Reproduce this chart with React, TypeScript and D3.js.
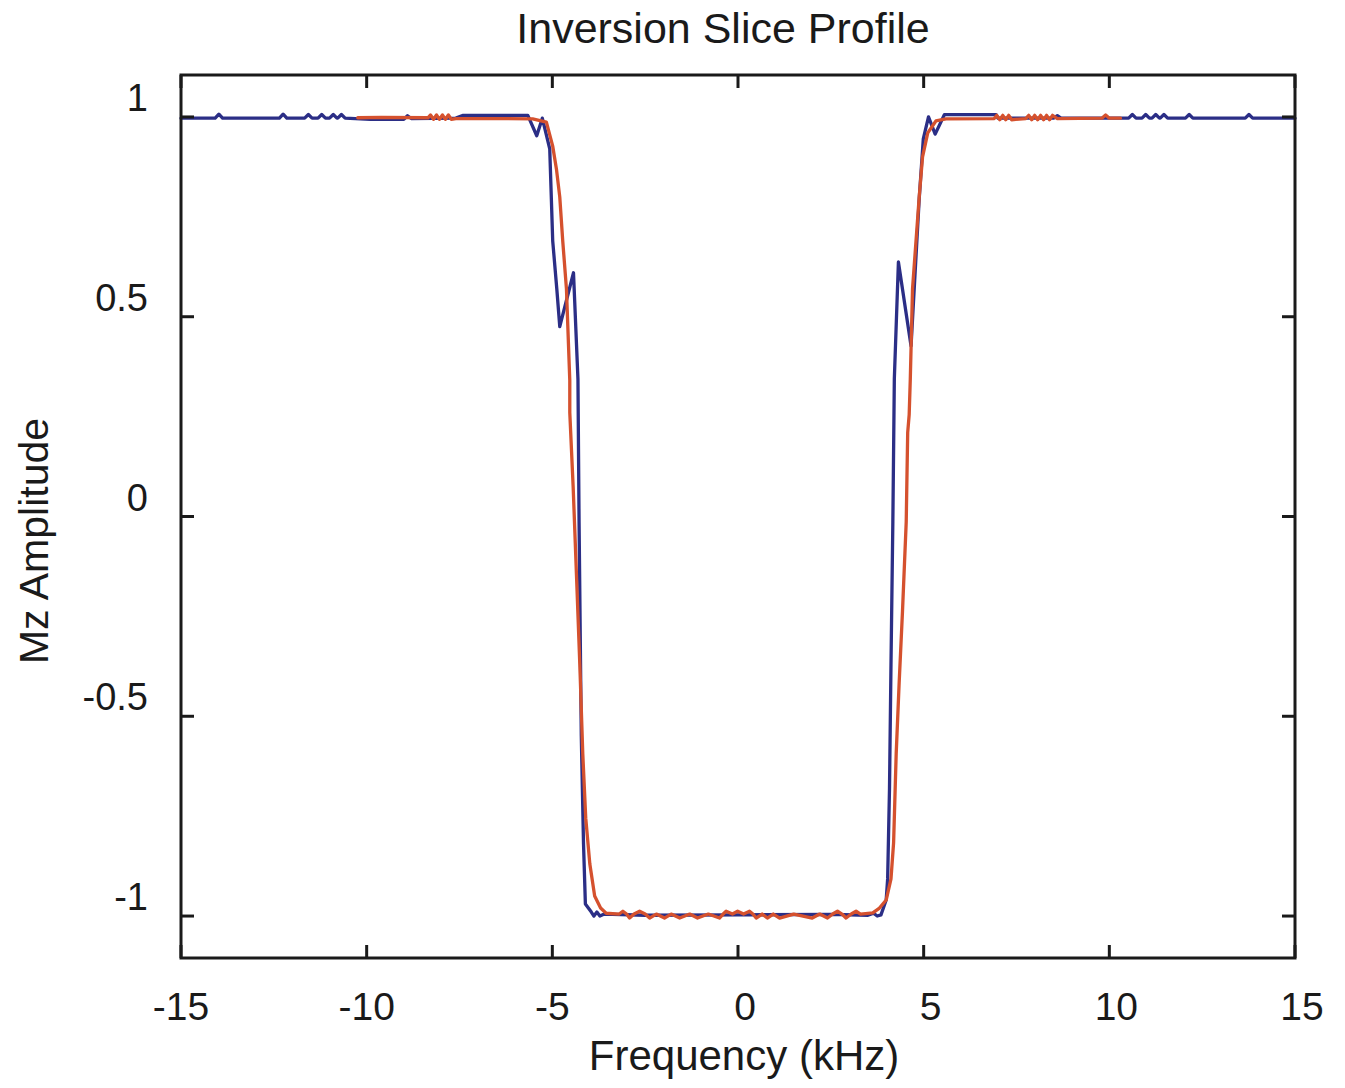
import React, { useEffect, useRef } from "react";
import * as d3 from "d3";

// frequency (kHz), Mz amplitude
const bluePoints: [number, number][] = [
  [-15, 0.997], [-14.08, 0.997], [-13.98, 1.007], [-13.88, 0.997],
  [-12.35, 0.997], [-12.25, 1.007], [-12.15, 0.997],
  [-11.67, 0.997], [-11.57, 1.006], [-11.47, 0.997],
  [-11.31, 0.997], [-11.21, 1.006], [-11.11, 0.997],
  [-11.0, 0.997], [-10.9, 1.006], [-10.8, 0.997],
  [-10.78, 0.997], [-10.68, 1.006], [-10.58, 0.997],
  [-9.9, 0.994], [-9.0, 0.994], [-8.9, 1.003], [-8.8, 0.996],
  [-7.6, 0.997], [-7.4, 1.004], [-5.66, 1.004],
  [-5.42, 0.953], [-5.27, 0.997], [-5.07, 0.92], [-4.99, 0.69],
  [-4.88, 0.57], [-4.8, 0.475], [-4.43, 0.61], [-4.31, 0.344],
  [-4.28, -0.013], [-4.22, -0.55], [-4.16, -0.82], [-4.11, -0.97],
  [-3.95, -0.99], [-3.88, -1.0], [-3.8, -0.99], [-3.72, -1.0],
  [-3.6, -0.995], [-2.5, -0.998], [0, -0.997], [2.5, -0.996],
  [3.5, -0.998], [3.65, -0.993], [3.75, -1.0], [3.85, -0.997],
  [3.99, -0.96], [4.03, -0.907], [4.08, -0.68], [4.12, -0.37],
  [4.17, -0.014], [4.21, 0.344], [4.32, 0.637], [4.66, 0.427],
  [4.88, 0.795], [4.99, 0.945], [5.13, 1.0], [5.31, 0.957],
  [5.56, 1.006], [6.95, 1.006], [7.0, 0.997], [8.5, 0.997],
  [8.6, 1.003], [8.7, 0.997],
  [10.52, 0.997], [10.62, 1.006], [10.72, 0.997],
  [10.88, 0.997], [10.98, 1.006], [11.08, 0.997],
  [11.15, 0.997], [11.25, 1.006], [11.35, 0.997],
  [11.37, 0.997], [11.47, 1.006], [11.57, 0.997],
  [12.05, 0.997], [12.15, 1.006], [12.25, 0.997],
  [13.66, 0.997], [13.76, 1.006], [13.86, 0.997],
  [15, 0.997],
];

const redPoints: [number, number][] = [
  [-10.24, 0.998], [-9.6, 0.999], [-8.35, 0.998],
  [-8.28, 1.005], [-8.2, 0.994], [-8.12, 1.005], [-8.04, 0.994],
  [-7.96, 1.005], [-7.88, 0.994], [-7.8, 1.005], [-7.72, 0.994],
  [-7.6, 0.996], [-6.5, 0.996], [-5.53, 0.995], [-5.16, 0.987],
  [-4.99, 0.927], [-4.89, 0.87], [-4.8, 0.8], [-4.72, 0.69],
  [-4.62, 0.57], [-4.53, 0.34], [-4.53, 0.26], [-4.44, 0.076],
  [-4.35, -0.146], [-4.26, -0.37], [-4.18, -0.594], [-4.1, -0.755],
  [-3.99, -0.87], [-3.86, -0.95], [-3.7, -0.98], [-3.55, -0.993],
  [-3.2, -0.995], [-3.1, -0.988], [-3.0, -0.995], [-2.92, -1.005],
  [-2.8, -0.995], [-2.65, -0.988], [-2.5, -0.995], [-2.38, -1.005],
  [-2.2, -0.995], [-1.98, -1.005], [-1.8, -0.995], [-1.57, -1.005],
  [-1.3, -0.995], [-1.09, -1.005], [-0.8, -0.995], [-0.5, -1.005],
  [-0.4, -0.995], [-0.32, -0.988], [-0.15, -0.995], [-0.01, -0.988],
  [0.15, -0.995], [0.31, -0.988], [0.4, -0.995], [0.49, -1.005],
  [0.65, -0.995], [0.79, -1.005], [0.95, -0.995], [1.12, -1.005],
  [1.5, -0.995], [2.0, -1.005], [2.2, -0.995], [2.41, -1.005],
  [2.55, -0.995], [2.68, -0.988], [2.8, -0.995], [2.91, -1.005],
  [3.05, -0.995], [3.18, -0.988], [3.3, -0.995], [3.63, -0.992],
  [3.81, -0.98], [3.99, -0.96], [4.12, -0.907], [4.19, -0.817],
  [4.26, -0.594], [4.34, -0.416], [4.43, -0.237], [4.53, -0.014],
  [4.57, 0.21], [4.61, 0.255], [4.64, 0.344], [4.7, 0.57],
  [4.88, 0.8], [4.97, 0.9], [5.11, 0.96], [5.33, 0.99],
  [5.6, 0.995], [6.9, 0.996],
  [6.97, 1.004], [7.05, 0.993], [7.13, 1.004], [7.21, 0.993], [7.29, 1.004], [7.37, 0.993],
  [7.75, 0.996], [7.83, 1.004], [7.91, 0.993], [7.99, 1.004], [8.07, 0.993],
  [8.15, 1.004], [8.23, 0.993], [8.31, 1.004], [8.39, 0.993], [8.47, 1.004],
  [8.6, 0.996], [9.8, 0.997], [9.9, 1.005], [10.0, 0.997], [10.3, 0.997],
];

const xTicks = [-15, -10, -5, 0, 5, 10, 15];
const yTicks = [-1, -0.5, 0, 0.5, 1];

const W = 1345;
const H = 1088;

export default function App() {
  const ref = useRef<SVGSVGElement>(null);

  useEffect(() => {
    const svg = d3.select(ref.current);
    svg.selectAll("*").remove();

    const left = 181, right = 1295, top = 75, bottom = 958;
    const font = "'Liberation Sans', Arial, Helvetica, sans-serif";
    const ink = "#1a1a1a";

    const x = d3.scaleLinear().domain([-15, 15]).range([left, right]);
    const y = d3.scaleLinear().domain([-1.105, 1.105]).range([bottom, top]);

    const line = d3.line<[number, number]>()
      .x((d) => x(d[0]))
      .y((d) => y(d[1]));

    // curves
    svg.append("path")
      .datum(bluePoints)
      .attr("d", line)
      .attr("fill", "none")
      .attr("stroke", "#2b2e86")
      .attr("stroke-width", 3.3)
      .attr("stroke-linejoin", "round")
      .attr("stroke-linecap", "round");

    svg.append("path")
      .datum(redPoints)
      .attr("d", line)
      .attr("fill", "none")
      .attr("stroke", "#d5512e")
      .attr("stroke-width", 3.3)
      .attr("stroke-linejoin", "round")
      .attr("stroke-linecap", "round");

    // box and inward ticks
    const tl = 13;
    const g = svg.append("g").attr("stroke", ink).attr("stroke-width", 3);
    g.append("rect")
      .attr("x", left).attr("y", top)
      .attr("width", right - left).attr("height", bottom - top)
      .attr("fill", "none");

    xTicks.forEach((t) => {
      g.append("line").attr("x1", x(t)).attr("x2", x(t)).attr("y1", bottom).attr("y2", bottom - tl);
      g.append("line").attr("x1", x(t)).attr("x2", x(t)).attr("y1", top).attr("y2", top + tl);
    });
    yTicks.forEach((t) => {
      g.append("line").attr("x1", left).attr("x2", left + tl).attr("y1", y(t)).attr("y2", y(t));
      g.append("line").attr("x1", right).attr("x2", right - tl).attr("y1", y(t)).attr("y2", y(t));
    });

    // tick labels
    svg.selectAll(".xl")
      .data(xTicks)
      .enter()
      .append("text")
      .attr("x", (d) => x(d) + (d >= 0 ? 7 : 0))
      .attr("y", 1020)
      .attr("text-anchor", "middle")
      .attr("font-family", font)
      .attr("font-size", 39)
      .attr("fill", ink)
      .text((d) => String(d));

    svg.selectAll(".yl")
      .data(yTicks)
      .enter()
      .append("text")
      .attr("x", 148)
      .attr("y", (d) => y(d) - 6)
      .attr("text-anchor", "end")
      .attr("font-family", font)
      .attr("font-size", 38)
      .attr("fill", ink)
      .text((d) => String(d));

    // titles
    svg.append("text")
      .attr("x", 723).attr("y", 43)
      .attr("text-anchor", "middle")
      .attr("font-family", font)
      .attr("font-size", 43)
      .attr("fill", ink)
      .text("Inversion Slice Profile");

    svg.append("text")
      .attr("x", 744).attr("y", 1070)
      .attr("text-anchor", "middle")
      .attr("font-family", font)
      .attr("font-size", 42)
      .attr("fill", ink)
      .text("Frequency (kHz)");

    svg.append("text")
      .attr("transform", "translate(48,541) rotate(-90)")
      .attr("text-anchor", "middle")
      .attr("font-family", font)
      .attr("font-size", 41)
      .attr("fill", ink)
      .text("Mz Amplitude");
  }, []);

  return (
    <svg
      ref={ref}
      width={W}
      height={H}
      style={{ position: "absolute", left: 0, top: 0, background: "#fff" }}
    />
  );
}
